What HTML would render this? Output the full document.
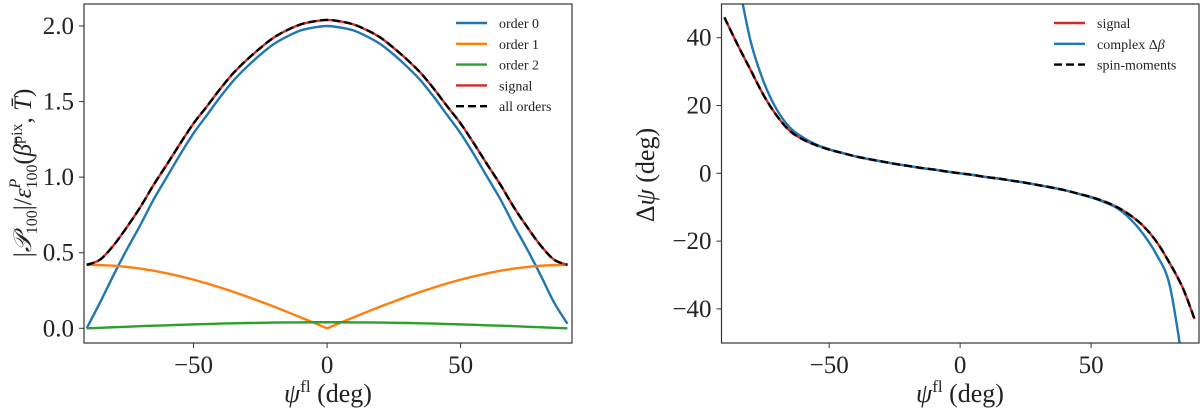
<!DOCTYPE html>
<html><head><meta charset="utf-8"><style>
html,body{margin:0;padding:0;background:#fff;}
svg{display:block;font-family:"Liberation Serif",serif;}
</style></head><body>
<svg id="fig" width="1200" height="414" viewBox="0 0 1200 414" xmlns="http://www.w3.org/2000/svg">
<defs>
<clipPath id="clipL"><rect x="84" y="4" width="488" height="339"/></clipPath>
<clipPath id="clipR"><rect x="721.5" y="4" width="477.5" height="339"/></clipPath>
</defs>
<g id="left"></g>
<g id="right"></g>
</svg>
<script>
// ---------- left panel data ----------
const psiL = [-90,-85,-80,-75,-70,-65,-60,-55,-50,-45,-40,-35,-30,-25,-20,-15,-10,-5,0,5,10,15,20,25,30,35,40,45,50,55,60,65,70,75,80,85,90];
const order0 = [0,0.17,0.35,0.52,0.68,0.85,1.0,1.15,1.29,1.41,1.53,1.64,1.73,1.81,1.88,1.93,1.97,1.99,2.0,1.99,1.97,1.93,1.88,1.81,1.73,1.64,1.53,1.41,1.29,1.15,1.0,0.85,0.68,0.52,0.35,0.17,0.03];
const order1 = [0.42,0.418,0.414,0.406,0.395,0.381,0.364,0.344,0.322,0.297,0.27,0.241,0.21,0.177,0.144,0.109,0.073,0.037,0,0.037,0.073,0.109,0.144,0.177,0.21,0.241,0.27,0.297,0.322,0.344,0.364,0.381,0.395,0.406,0.414,0.418,0.42];
const order2 = [0,0.003,0.007,0.01,0.014,0.017,0.02,0.023,0.026,0.028,0.031,0.033,0.035,0.036,0.038,0.039,0.039,0.04,0.04,0.04,0.039,0.039,0.038,0.036,0.035,0.033,0.031,0.028,0.026,0.023,0.02,0.017,0.014,0.01,0.007,0.003,0];
const signalL = [0.42,0.454,0.547,0.668,0.799,0.947,1.083,1.222,1.355,1.468,1.584,1.69,1.777,1.854,1.923,1.972,2.01,2.03,2.04,2.03,2.01,1.972,1.923,1.854,1.777,1.69,1.584,1.468,1.355,1.222,1.083,0.947,0.799,0.668,0.547,0.454,0.42];
const xTicksL = [-50,0,50];
const xTickLabelsL = ["\u221250","0","50"];
const yTicksL = [0,0.5,1,1.5,2];
const yTickLabelsL = ["0.0","0.5","1.0","1.5","2.0"];
// ---------- right panel data ----------
const psiR = [-90,-85,-80,-75,-70,-65,-60,-55,-50,-45,-40,-35,-30,-25,-20,-15,-10,-5,0,5,10,15,20,25,30,35,40,45,50,55,60,65,70,75,80,85,89.5];
const signalR = [46,38,30.5,23,17,12.5,10,8.3,7,6,5,4.2,3.5,2.8,2.2,1.6,1.1,0.5,0,-0.5,-1.1,-1.6,-2.2,-2.8,-3.5,-4.2,-5,-6,-7,-8.3,-10,-12.4,-15.6,-20.2,-26.5,-33.8,-43];
const psiB = [-85,-80,-75,-70,-65,-60,-55,-50,-45,-40,-35,-30,-25,-20,-15,-10,-5,0,5,10,15,20,25,30,35,40,45,50,55,60,65,70,75,80,85];
const complexB = [58,39,27,18.8,13.5,10.6,8.5,7.1,6,5,4.2,3.5,2.8,2.2,1.6,1.1,0.5,0,-0.5,-1.1,-1.6,-2.2,-2.8,-3.5,-4.2,-5,-6,-7.1,-8.5,-10.3,-13.5,-18,-24,-33,-56];
const xTicksR = [-50,0,50];
const xTickLabelsR = ["\u221250","0","50"];
const yTicksR = [-40,-20,0,20,40];
const yTickLabelsR = ["\u221240","\u221220","0","20","40"];

const NS = "http://www.w3.org/2000/svg";
function mk(tag, attrs, parent){const e=document.createElementNS(NS,tag);for(const k in attrs)e.setAttribute(k,attrs[k]);parent.appendChild(e);return e;}
function lin(d0,d1,r0,r1){return v=>r0+(v-d0)*(r1-r0)/(d1-d0);}
function smoothPath(pts){
  let d="M"+pts[0][0].toFixed(2)+","+pts[0][1].toFixed(2);
  for(let i=0;i<pts.length-1;i++){
    const p0=pts[Math.max(0,i-1)],p1=pts[i],p2=pts[i+1],p3=pts[Math.min(pts.length-1,i+2)];
    const c1x=p1[0]+(p2[0]-p0[0])/6,c1y=p1[1]+(p2[1]-p0[1])/6;
    const c2x=p2[0]-(p3[0]-p1[0])/6,c2y=p2[1]-(p3[1]-p1[1])/6;
    d+="C"+c1x.toFixed(2)+","+c1y.toFixed(2)+" "+c2x.toFixed(2)+","+c2y.toFixed(2)+" "+p2[0].toFixed(2)+","+p2[1].toFixed(2);
  }
  return d;
}
function linPath(pts){return "M"+pts.map(p=>p[0].toFixed(2)+","+p[1].toFixed(2)).join("L");}

function axes(g, box, xs, ys, xt, xtl, yt, ytl){
  const [L,T,R,B]=box;
  for(let i=0;i<xt.length;i++){
    const x=xs(xt[i]);
    const t=mk("line",{x1:x,y1:B,x2:x,y2:B+5,stroke:"#333","stroke-width":1},g);
    
    
    const tx=mk("text",{x:x,y:B+30,"font-size":25,"text-anchor":"middle",fill:"#222"},g);
    tx.textContent=xtl[i];
    
    
  }
  for(let i=0;i<yt.length;i++){
    const y=ys(yt[i]);
    const t=mk("line",{x1:L-5,y1:y,x2:L,y2:y,stroke:"#333","stroke-width":1},g);
    
    
    const tx=mk("text",{x:L-10,y:y+8,"font-size":25,"text-anchor":"end",fill:"#222"},g);
    tx.textContent=ytl[i];
    
    
  }
}
function frame(g,box){
  const [L,T,R,B]=box;
  const f=mk("rect",{x:L,y:T,width:R-L,height:B-T,fill:"none",stroke:"#333","stroke-width":1.2},g);
  
  
}
function series(g,xsArr,ysArr,xs,ys,color,name,opts){
  const pts=xsArr.map((v,i)=>[xs(v),ys(ysArr[i])]);
  const p=mk("path",{d:(opts&&opts.linear)?linPath(pts):smoothPath(pts),fill:"none",stroke:color,"stroke-width":(opts&&opts.w)||2.4,"clip-path":opts.clip,"stroke-linejoin":"round"},g);
  if(opts.dash)p.setAttribute("stroke-dasharray",opts.dash);
  
  
}
function legend(g,x,y0,dy,items){
  items.forEach((it,i)=>{
    const y=y0+i*dy;
    const l=mk("line",{x1:x,y1:y,x2:x+31,y2:y,stroke:it.c,"stroke-width":2.4},g);
    if(it.dash)l.setAttribute("stroke-dasharray",it.dash);
    
    
    const t=mk("text",{x:x+43,y:y+5,"font-size":14,fill:"#222"},g);
    t.innerHTML=it.t;
    
    
  });
}

// left
(function(){
  const g=document.getElementById("left");
  const box=[84,4,572,343];
  const xs=lin(-91,91.7,84,572), ys=lin(0,2,328.3,26);
  axes(g,box,xs,ys,xTicksL,xTickLabelsL,yTicksL,yTickLabelsL);
  series(g,psiL,order0,xs,ys,"#1f77b4","order0-line",{clip:"url(#clipL)"});
  series(g,psiL,order1,xs,ys,"#ff7f0e","order1-line",{clip:"url(#clipL)",linear:true});
  series(g,psiL,order2,xs,ys,"#2ca02c","order2-line",{clip:"url(#clipL)"});
  series(g,psiL,signalL,xs,ys,"#d62728","signal-line",{clip:"url(#clipL)"});
  series(g,psiL,signalL,xs,ys,"#000","all-orders-line",{clip:"url(#clipL)",dash:"8,4"});
  frame(g,box);
  legend(g,456,23,20.8,[{c:"#1f77b4",t:"order 0"},{c:"#ff7f0e",t:"order 1"},{c:"#2ca02c",t:"order 2"},{c:"#d62728",t:"signal"},{c:"#000",t:"all orders",dash:"8,4"}]);
  const xl=mk("text",{x:328,y:402,"font-size":26,"text-anchor":"middle",fill:"#222"},g);
  xl.innerHTML='<tspan font-style="italic">ψ</tspan><tspan font-size="17" dy="-10">fl</tspan><tspan dy="10"> (deg)</tspan>';
  
  
  const yl=mk("text",{x:0,y:0,"font-size":25,"text-anchor":"middle",fill:"#222",transform:"translate(31,173) rotate(-90)"},g);
  yl.innerHTML='|<tspan font-style="italic">𝒫</tspan><tspan font-size="16" dy="6">100</tspan><tspan dy="-6">|/</tspan><tspan font-style="italic">ε</tspan><tspan font-size="16" dy="6">100</tspan><tspan font-size="16" font-style="italic" dx="-24" dy="-17">P</tspan><tspan dx="14" dy="11">(</tspan><tspan font-style="italic">β̄</tspan><tspan font-size="16" dy="-9">pix</tspan><tspan dy="9">, </tspan><tspan font-style="italic">T̄</tspan>)';
  
  
})();

// right
(function(){
  const g=document.getElementById("right");
  const box=[721.5,4,1199,343];
  const xs=lin(-91.1,91.2,721.5,1199), ys=lin(0,40,173.3,37.7);
  axes(g,box,xs,ys,xTicksR,xTickLabelsR,yTicksR,yTickLabelsR);
  series(g,psiR,signalR,xs,ys,"#d62728","signal-line",{clip:"url(#clipR)"});
  series(g,psiB,complexB,xs,ys,"#1f77b4","complex-delta-beta-line",{clip:"url(#clipR)"});
  series(g,psiR,signalR,xs,ys,"#000","spin-moments-line",{clip:"url(#clipR)",dash:"8,4"});
  frame(g,box);
  legend(g,1054,23,20.8,[{c:"#d62728",t:"signal"},{c:"#1f77b4",t:'complex Δ<tspan font-style="italic">β</tspan>'},{c:"#000",t:"spin-moments",dash:"8,4"}]);
  const xl=mk("text",{x:960,y:402,"font-size":26,"text-anchor":"middle",fill:"#222"},g);
  xl.innerHTML='<tspan font-style="italic">ψ</tspan><tspan font-size="17" dy="-10">fl</tspan><tspan dy="10">  (deg)</tspan>';
  
  
  const yl=mk("text",{x:0,y:0,"font-size":26,"text-anchor":"middle",fill:"#222",transform:"translate(654,175) rotate(-90)"},g);
  yl.innerHTML='Δ<tspan font-style="italic">ψ</tspan>  (deg)';
  
  
})();
</script>
</body></html>
